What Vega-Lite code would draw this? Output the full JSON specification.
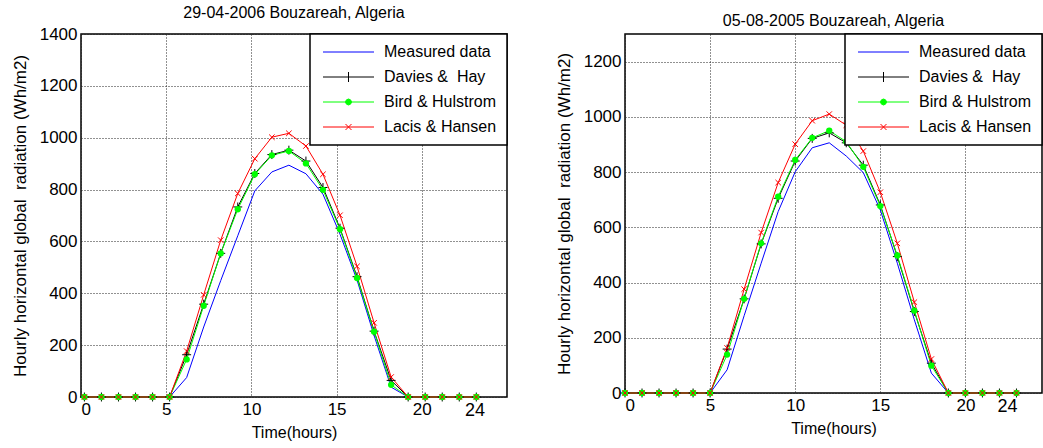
{
  "$schema": "https://vega.github.io/schema/vega-lite/v6.json",
  "padding": {"left": 10, "top": 4, "right": 0, "bottom": 0},
  "background": "white",
  "config": {
    "font": "Liberation Sans",
    "view": {"stroke": "black", "strokeWidth": 1.5},
    "axis": {
      "labelFont": "Liberation Sans", "labelFontSize": 17, "labelColor": "black",
      "titleFont": "Liberation Sans", "titleFontSize": 16, "titleFontWeight": "normal", "titleColor": "black",
      "grid": true, "gridColor": "#222", "gridDash": [1, 2], "gridWidth": 1, "gridOpacity": 1,
      "domain": false, "ticks": false, "labelPadding": 4, "format": "d"
    },
    "title": {"font": "Liberation Sans", "fontSize": 16, "fontWeight": "normal", "color": "black", "offset": 4},
    "legend": {
      "labelFont": "Liberation Sans", "labelFontSize": 16, "labelColor": "black",
      "strokeColor": "black", "fillColor": "white", "padding": 10, "rowPadding": 9,
      "symbolSize": 100, "symbolStrokeWidth": 1, "labelOffset": 48, "offset": 0
    }
  },
  "datasets": {
    "left": [
      {"series":"Measured data","t":0.2,"v":0},{"series":"Measured data","t":1.2,"v":0},{"series":"Measured data","t":2.2,"v":0},{"series":"Measured data","t":3.2,"v":0},{"series":"Measured data","t":4.2,"v":0},{"series":"Measured data","t":5.2,"v":0},{"series":"Measured data","t":6.2,"v":75},{"series":"Measured data","t":7.2,"v":270},{"series":"Measured data","t":8.2,"v":449},{"series":"Measured data","t":9.2,"v":622},{"series":"Measured data","t":10.2,"v":795},{"series":"Measured data","t":11.2,"v":868},{"series":"Measured data","t":12.2,"v":894},{"series":"Measured data","t":13.2,"v":861},{"series":"Measured data","t":14.2,"v":782},{"series":"Measured data","t":15.2,"v":628},{"series":"Measured data","t":16.2,"v":451},{"series":"Measured data","t":17.2,"v":237},{"series":"Measured data","t":18.2,"v":38},{"series":"Measured data","t":19.2,"v":0},{"series":"Measured data","t":20.2,"v":0},{"series":"Measured data","t":21.2,"v":0},{"series":"Measured data","t":22.2,"v":0},{"series":"Measured data","t":23.2,"v":0},
      {"series":"Davies & Hay","t":0.2,"v":0},{"series":"Davies & Hay","t":1.2,"v":0},{"series":"Davies & Hay","t":2.2,"v":0},{"series":"Davies & Hay","t":3.2,"v":0},{"series":"Davies & Hay","t":4.2,"v":0},{"series":"Davies & Hay","t":5.2,"v":0},{"series":"Davies & Hay","t":6.2,"v":163},{"series":"Davies & Hay","t":7.2,"v":358},{"series":"Davies & Hay","t":8.2,"v":554},{"series":"Davies & Hay","t":9.2,"v":733},{"series":"Davies & Hay","t":10.2,"v":862},{"series":"Davies & Hay","t":11.2,"v":935},{"series":"Davies & Hay","t":12.2,"v":952},{"series":"Davies & Hay","t":13.2,"v":910},{"series":"Davies & Hay","t":14.2,"v":808},{"series":"Davies & Hay","t":15.2,"v":651},{"series":"Davies & Hay","t":16.2,"v":464},{"series":"Davies & Hay","t":17.2,"v":254},{"series":"Davies & Hay","t":18.2,"v":64},{"series":"Davies & Hay","t":19.2,"v":0},{"series":"Davies & Hay","t":20.2,"v":0},{"series":"Davies & Hay","t":21.2,"v":0},{"series":"Davies & Hay","t":22.2,"v":0},{"series":"Davies & Hay","t":23.2,"v":0},
      {"series":"Bird & Hulstrom","t":0.2,"v":0},{"series":"Bird & Hulstrom","t":1.2,"v":0},{"series":"Bird & Hulstrom","t":2.2,"v":0},{"series":"Bird & Hulstrom","t":3.2,"v":0},{"series":"Bird & Hulstrom","t":4.2,"v":0},{"series":"Bird & Hulstrom","t":5.2,"v":0},{"series":"Bird & Hulstrom","t":6.2,"v":145},{"series":"Bird & Hulstrom","t":7.2,"v":352},{"series":"Bird & Hulstrom","t":8.2,"v":554},{"series":"Bird & Hulstrom","t":9.2,"v":724},{"series":"Bird & Hulstrom","t":10.2,"v":859},{"series":"Bird & Hulstrom","t":11.2,"v":932},{"series":"Bird & Hulstrom","t":12.2,"v":949},{"series":"Bird & Hulstrom","t":13.2,"v":901},{"series":"Bird & Hulstrom","t":14.2,"v":799},{"series":"Bird & Hulstrom","t":15.2,"v":647},{"series":"Bird & Hulstrom","t":16.2,"v":459},{"series":"Bird & Hulstrom","t":17.2,"v":252},{"series":"Bird & Hulstrom","t":18.2,"v":47},{"series":"Bird & Hulstrom","t":19.2,"v":0},{"series":"Bird & Hulstrom","t":20.2,"v":0},{"series":"Bird & Hulstrom","t":21.2,"v":0},{"series":"Bird & Hulstrom","t":22.2,"v":0},{"series":"Bird & Hulstrom","t":23.2,"v":0},
      {"series":"Lacis & Hansen","t":0.2,"v":0},{"series":"Lacis & Hansen","t":1.2,"v":0},{"series":"Lacis & Hansen","t":2.2,"v":0},{"series":"Lacis & Hansen","t":3.2,"v":0},{"series":"Lacis & Hansen","t":4.2,"v":0},{"series":"Lacis & Hansen","t":5.2,"v":0},{"series":"Lacis & Hansen","t":6.2,"v":177},{"series":"Lacis & Hansen","t":7.2,"v":394},{"series":"Lacis & Hansen","t":8.2,"v":605},{"series":"Lacis & Hansen","t":9.2,"v":785},{"series":"Lacis & Hansen","t":10.2,"v":919},{"series":"Lacis & Hansen","t":11.2,"v":1002},{"series":"Lacis & Hansen","t":12.2,"v":1017},{"series":"Lacis & Hansen","t":13.2,"v":968},{"series":"Lacis & Hansen","t":14.2,"v":859},{"series":"Lacis & Hansen","t":15.2,"v":701},{"series":"Lacis & Hansen","t":16.2,"v":504},{"series":"Lacis & Hansen","t":17.2,"v":286},{"series":"Lacis & Hansen","t":18.2,"v":77},{"series":"Lacis & Hansen","t":19.2,"v":0},{"series":"Lacis & Hansen","t":20.2,"v":0},{"series":"Lacis & Hansen","t":21.2,"v":0},{"series":"Lacis & Hansen","t":22.2,"v":0},{"series":"Lacis & Hansen","t":23.2,"v":0}
    ],
    "right": [
      {"series":"Measured data","t":0,"v":0},{"series":"Measured data","t":1,"v":0},{"series":"Measured data","t":2,"v":0},{"series":"Measured data","t":3,"v":0},{"series":"Measured data","t":4,"v":0},{"series":"Measured data","t":5,"v":0},{"series":"Measured data","t":6,"v":84},{"series":"Measured data","t":7,"v":280},{"series":"Measured data","t":8,"v":470},{"series":"Measured data","t":9,"v":657},{"series":"Measured data","t":10,"v":801},{"series":"Measured data","t":11,"v":888},{"series":"Measured data","t":12,"v":906},{"series":"Measured data","t":13,"v":858},{"series":"Measured data","t":14,"v":798},{"series":"Measured data","t":15,"v":663},{"series":"Measured data","t":16,"v":470},{"series":"Measured data","t":17,"v":265},{"series":"Measured data","t":18,"v":72},{"series":"Measured data","t":19,"v":0},{"series":"Measured data","t":20,"v":0},{"series":"Measured data","t":21,"v":0},{"series":"Measured data","t":22,"v":0},{"series":"Measured data","t":23,"v":0},
      {"series":"Davies & Hay","t":0,"v":0},{"series":"Davies & Hay","t":1,"v":0},{"series":"Davies & Hay","t":2,"v":0},{"series":"Davies & Hay","t":3,"v":0},{"series":"Davies & Hay","t":4,"v":0},{"series":"Davies & Hay","t":5,"v":0},{"series":"Davies & Hay","t":6,"v":159},{"series":"Davies & Hay","t":7,"v":341},{"series":"Davies & Hay","t":8,"v":540},{"series":"Davies & Hay","t":9,"v":705},{"series":"Davies & Hay","t":10,"v":840},{"series":"Davies & Hay","t":11,"v":922},{"series":"Davies & Hay","t":12,"v":942},{"series":"Davies & Hay","t":13,"v":906},{"series":"Davies & Hay","t":14,"v":825},{"series":"Davies & Hay","t":15,"v":681},{"series":"Davies & Hay","t":16,"v":494},{"series":"Davies & Hay","t":17,"v":295},{"series":"Davies & Hay","t":18,"v":108},{"series":"Davies & Hay","t":19,"v":0},{"series":"Davies & Hay","t":20,"v":0},{"series":"Davies & Hay","t":21,"v":0},{"series":"Davies & Hay","t":22,"v":0},{"series":"Davies & Hay","t":23,"v":0},
      {"series":"Bird & Hulstrom","t":0,"v":0},{"series":"Bird & Hulstrom","t":1,"v":0},{"series":"Bird & Hulstrom","t":2,"v":0},{"series":"Bird & Hulstrom","t":3,"v":0},{"series":"Bird & Hulstrom","t":4,"v":0},{"series":"Bird & Hulstrom","t":5,"v":0},{"series":"Bird & Hulstrom","t":6,"v":139},{"series":"Bird & Hulstrom","t":7,"v":341},{"series":"Bird & Hulstrom","t":8,"v":542},{"series":"Bird & Hulstrom","t":9,"v":711},{"series":"Bird & Hulstrom","t":10,"v":844},{"series":"Bird & Hulstrom","t":11,"v":924},{"series":"Bird & Hulstrom","t":12,"v":950},{"series":"Bird & Hulstrom","t":13,"v":910},{"series":"Bird & Hulstrom","t":14,"v":819},{"series":"Bird & Hulstrom","t":15,"v":677},{"series":"Bird & Hulstrom","t":16,"v":498},{"series":"Bird & Hulstrom","t":17,"v":298},{"series":"Bird & Hulstrom","t":18,"v":99},{"series":"Bird & Hulstrom","t":19,"v":0},{"series":"Bird & Hulstrom","t":20,"v":0},{"series":"Bird & Hulstrom","t":21,"v":0},{"series":"Bird & Hulstrom","t":22,"v":0},{"series":"Bird & Hulstrom","t":23,"v":0},
      {"series":"Lacis & Hansen","t":0,"v":0},{"series":"Lacis & Hansen","t":1,"v":0},{"series":"Lacis & Hansen","t":2,"v":0},{"series":"Lacis & Hansen","t":3,"v":0},{"series":"Lacis & Hansen","t":4,"v":0},{"series":"Lacis & Hansen","t":5,"v":0},{"series":"Lacis & Hansen","t":6,"v":163},{"series":"Lacis & Hansen","t":7,"v":376},{"series":"Lacis & Hansen","t":8,"v":581},{"series":"Lacis & Hansen","t":9,"v":762},{"series":"Lacis & Hansen","t":10,"v":901},{"series":"Lacis & Hansen","t":11,"v":986},{"series":"Lacis & Hansen","t":12,"v":1010},{"series":"Lacis & Hansen","t":13,"v":970},{"series":"Lacis & Hansen","t":14,"v":876},{"series":"Lacis & Hansen","t":15,"v":727},{"series":"Lacis & Hansen","t":16,"v":542},{"series":"Lacis & Hansen","t":17,"v":329},{"series":"Lacis & Hansen","t":18,"v":123},{"series":"Lacis & Hansen","t":19,"v":0},{"series":"Lacis & Hansen","t":20,"v":0},{"series":"Lacis & Hansen","t":21,"v":0},{"series":"Lacis & Hansen","t":22,"v":0},{"series":"Lacis & Hansen","t":23,"v":0}
    ]
  },
  "resolve": {"scale": {"x": "independent", "y": "independent", "color": "independent"}, "legend": {"color": "independent"}},
  "spacing": 45,
  "hconcat": [
    {
      "title": "29-04-2006 Bouzareah, Algeria",
      "width": 426, "height": 363,
      "data": {"name": "left"},
      "encoding": {
        "x": {"field": "t", "type": "quantitative", "scale": {"domain": [0, 25], "nice": false, "zero": false},
              "axis": {"title": "Time(hours)", "values": [0, 5, 10, 15, 20, 23.1], "labelExpr": "datum.value > 22 ? '24' : datum.label", "titlePadding": 5,
                       "labelFontSize": {"condition": {"test": "datum.value > 22", "value": 18}, "value": 17},
                       "gridOpacity": {"condition": {"test": "datum.value > 22", "value": 0}, "value": 1}}},
        "y": {"field": "v", "type": "quantitative", "scale": {"domain": [0, 1400], "nice": false},
              "axis": {"title": "Hourly horizontal global\u00a0 radiation (Wh/m2)", "titleFontSize": 17, "values": [0, 200, 400, 600, 800, 1000, 1200, 1400], "titlePadding": 10}}
      },
      "layer": [
        {
          "mark": {"type": "line", "strokeWidth": 1},
          "encoding": {
            "color": {"field": "series", "type": "nominal",
                      "scale": {"domain": ["Measured data", "Davies & Hay", "Bird & Hulstrom", "Lacis & Hansen"], "range": ["#0000ff", "#000000", "#00ff00", "#ff0000"]},
                      "legend": {"title": null, "orient": "top-right", "labelExpr": "(datum.label === 'Davies & Hay' ? 'Davies &\u00a0 Hay' : datum.label) + '\u00a0\u00a0'",
                                 "encode": {"symbols": {"update": {
                                   "shape": {"signal": "datum.value === 'Davies & Hay' ? 'M-1,0L9.2,0M4.1,-1L4.1,1' : datum.value === 'Bird & Hulstrom' ? 'M-1,0L9.2,0M4.7,0L4.524,0.424L4.1,0.6L3.676,0.424L3.5,0L3.676,-0.424L4.1,-0.6L4.524,-0.424Z' : datum.value === 'Lacis & Hansen' ? 'M-1,0L9.2,0M3.5,-0.6L4.7,0.6M3.5,0.6L4.7,-0.6' : 'M-1,0L9.2,0'"},
                                   "fill": {"signal": "datum.value === 'Bird & Hulstrom' ? '#00ff00' : 'transparent'"},
                                   "opacity": {"value": 1}
                                 }}, "legend": {"update": {"strokeWidth": {"value": 1.5}}}}}}
          }
        },
        {
          "transform": [{"filter": "datum.series === 'Davies & Hay'"}],
          "mark": {"type": "point", "shape": "M-1,0L1,0M0,-1L0,1", "filled": false, "color": "#000000", "strokeWidth": 1, "size": 80, "opacity": 1}
        },
        {
          "transform": [{"filter": "datum.series === 'Bird & Hulstrom'"}],
          "mark": {"type": "point", "shape": "circle", "filled": true, "color": "#00ff00", "size": 40, "opacity": 1}
        },
        {
          "transform": [{"filter": "datum.series === 'Lacis & Hansen'"}],
          "mark": {"type": "point", "shape": "M-1,-1L1,1M-1,1L1,-1", "filled": false, "color": "#ff0000", "strokeWidth": 1, "size": 30, "opacity": 1}
        }
      ]
    },
    {
      "title": "05-08-2005 Bouzareah, Algeria",
      "width": 417, "height": 359,
      "data": {"name": "right"},
      "encoding": {
        "x": {"field": "t", "type": "quantitative", "scale": {"domain": [0, 24.5], "nice": false, "zero": false},
              "axis": {"title": "Time(hours)", "values": [0, 5, 10, 15, 20, 22.45], "labelExpr": "datum.value > 22 ? '24' : datum.label", "titlePadding": 5,
                       "labelFontSize": {"condition": {"test": "datum.value > 22", "value": 18}, "value": 17},
                       "gridOpacity": {"condition": {"test": "datum.value > 22", "value": 0}, "value": 1}}},
        "y": {"field": "v", "type": "quantitative", "scale": {"domain": [0, 1300], "nice": false},
              "axis": {"title": "Hourly horizontal global\u00a0 radiation (Wh/m2)", "titleFontSize": 17, "values": [0, 200, 400, 600, 800, 1000, 1200], "titlePadding": 10}}
      },
      "layer": [
        {
          "mark": {"type": "line", "strokeWidth": 1},
          "encoding": {
            "color": {"field": "series", "type": "nominal",
                      "scale": {"domain": ["Measured data", "Davies & Hay", "Bird & Hulstrom", "Lacis & Hansen"], "range": ["#0000ff", "#000000", "#00ff00", "#ff0000"]},
                      "legend": {"title": null, "orient": "top-right", "labelExpr": "(datum.label === 'Davies & Hay' ? 'Davies &\u00a0 Hay' : datum.label) + '\u00a0\u00a0'",
                                 "encode": {"symbols": {"update": {
                                   "shape": {"signal": "datum.value === 'Davies & Hay' ? 'M-1,0L9.2,0M4.1,-1L4.1,1' : datum.value === 'Bird & Hulstrom' ? 'M-1,0L9.2,0M4.7,0L4.524,0.424L4.1,0.6L3.676,0.424L3.5,0L3.676,-0.424L4.1,-0.6L4.524,-0.424Z' : datum.value === 'Lacis & Hansen' ? 'M-1,0L9.2,0M3.5,-0.6L4.7,0.6M3.5,0.6L4.7,-0.6' : 'M-1,0L9.2,0'"},
                                   "fill": {"signal": "datum.value === 'Bird & Hulstrom' ? '#00ff00' : 'transparent'"},
                                   "opacity": {"value": 1}
                                 }}, "legend": {"update": {"strokeWidth": {"value": 1.5}}}}}}
          }
        },
        {
          "transform": [{"filter": "datum.series === 'Davies & Hay'"}],
          "mark": {"type": "point", "shape": "M-1,0L1,0M0,-1L0,1", "filled": false, "color": "#000000", "strokeWidth": 1, "size": 80, "opacity": 1}
        },
        {
          "transform": [{"filter": "datum.series === 'Bird & Hulstrom'"}],
          "mark": {"type": "point", "shape": "circle", "filled": true, "color": "#00ff00", "size": 40, "opacity": 1}
        },
        {
          "transform": [{"filter": "datum.series === 'Lacis & Hansen'"}],
          "mark": {"type": "point", "shape": "M-1,-1L1,1M-1,1L1,-1", "filled": false, "color": "#ff0000", "strokeWidth": 1, "size": 30, "opacity": 1}
        }
      ]
    }
  ]
}
